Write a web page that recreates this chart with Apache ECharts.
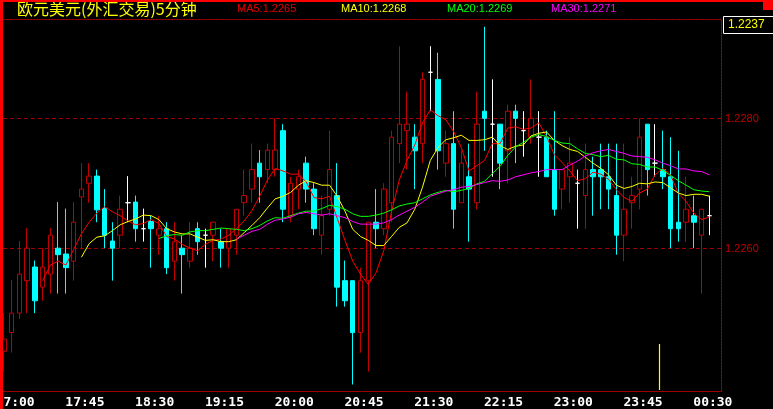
<!DOCTYPE html>
<html><head><meta charset="utf-8">
<script src="https://cdn.jsdelivr.net/npm/echarts@6/dist/echarts.min.js"></script>
<style>html,body{margin:0;padding:0;background:#000;overflow:hidden}#c{width:773px;height:409px}</style>
</head><body><div id="c"></div>
<script>
const titleText = '欧元美元(外汇交易)5分钟';
const maNames = ['MA5', 'MA10', 'MA20', 'MA30'];
const maHeaderValues = ['1.2265', '1.2268', '1.2269', '1.2271'];
const tickLabels = ['17:00','17:45','18:30','19:15','20:00','20:45','21:30','22:15','23:00','23:45','00:30'];
const gridLevels = [1.2260, 1.2280];
const boxPrice = '1.2237';

const opens = [1.22441,1.22470,1.22500,1.22550,1.22571,1.22540,1.22560,1.22600,1.22591,1.22580,
1.22679,1.22700,1.22711,1.22661,1.22611,1.22620,1.22670,1.22671,1.22630,1.22641,
1.22620,1.22630,1.22580,1.22600,1.22580,1.22630,1.22620,1.22620,1.22610,1.22600,
1.22620,1.22670,1.22691,1.22731,1.22721,1.22721,1.22781,1.22650,1.22691,1.22731,
1.22691,1.22620,1.22660,1.22681,1.22550,1.22550,1.22470,1.22550,1.22640,1.22630,
1.22670,1.22761,1.22781,1.22771,1.22761,1.22871,1.22860,1.22731,1.22761,1.22670,
1.22710,1.22670,1.22811,1.22791,1.22791,1.22750,1.22811,1.22781,1.22771,1.22771,
1.22771,1.22721,1.22691,1.22710,1.22700,1.22681,1.22721,1.22721,1.22710,1.22681,
1.22620,1.22670,1.22691,1.22791,1.22731,1.22721,1.22710,1.22640,1.22640,1.22650,
1.22620,1.22650];
const closes = [1.22460,1.22500,1.22560,1.22600,1.22519,1.22571,1.22620,1.22590,1.22570,1.22640,
1.22691,1.22711,1.22659,1.22620,1.22600,1.22660,1.22670,1.22630,1.22630,1.22630,
1.22630,1.22570,1.22610,1.22590,1.22600,1.22610,1.22620,1.22640,1.22600,1.22630,
1.22660,1.22681,1.22721,1.22710,1.22751,1.22751,1.22660,1.22700,1.22710,1.22691,
1.22630,1.22650,1.22721,1.22540,1.22519,1.22470,1.22550,1.22640,1.22630,1.22691,
1.22771,1.22791,1.22791,1.22750,1.22860,1.22871,1.22750,1.22761,1.22660,1.22731,
1.22691,1.22791,1.22800,1.22791,1.22731,1.22811,1.22800,1.22781,1.22800,1.22771,
1.22710,1.22660,1.22721,1.22731,1.22700,1.22721,1.22710,1.22710,1.22691,1.22620,
1.22660,1.22681,1.22771,1.22721,1.22731,1.22710,1.22630,1.22630,1.22660,1.22640,
1.22660,1.22650];
const lows = [1.22410,1.22439,1.22491,1.22500,1.22500,1.22519,1.22530,1.22530,1.22530,1.22550,
1.22600,1.22670,1.22640,1.22600,1.22550,1.22600,1.22640,1.22610,1.22610,1.22570,
1.22590,1.22560,1.22550,1.22530,1.22570,1.22590,1.22570,1.22580,1.22570,1.22570,
1.22590,1.22650,1.22670,1.22670,1.22700,1.22710,1.22640,1.22640,1.22660,1.22670,
1.22620,1.22590,1.22650,1.22510,1.22510,1.22390,1.22439,1.22410,1.22600,1.22620,
1.22640,1.22731,1.22721,1.22691,1.22731,1.22811,1.22721,1.22710,1.22630,1.22670,
1.22610,1.22660,1.22750,1.22710,1.22691,1.22700,1.22731,1.22741,1.22761,1.22710,
1.22710,1.22650,1.22660,1.22670,1.22630,1.22630,1.22650,1.22660,1.22660,1.22590,
1.22580,1.22630,1.22660,1.22681,1.22710,1.22691,1.22600,1.22610,1.22610,1.22600,
1.22530,1.22620];
const highs = [1.22500,1.22551,1.22611,1.22631,1.22581,1.22600,1.22631,1.22671,1.22661,1.22671,
1.22731,1.22731,1.22721,1.22691,1.22640,1.22681,1.22711,1.22681,1.22661,1.22650,
1.22650,1.22640,1.22640,1.22620,1.22640,1.22640,1.22630,1.22640,1.22630,1.22630,
1.22660,1.22721,1.22761,1.22751,1.22761,1.22800,1.22791,1.22710,1.22721,1.22741,
1.22700,1.22681,1.22781,1.22731,1.22581,1.22550,1.22570,1.22640,1.22691,1.22700,
1.22781,1.22911,1.22841,1.22791,1.22871,1.22911,1.22901,1.22781,1.22811,1.22750,
1.22761,1.22841,1.22941,1.22860,1.22791,1.22821,1.22821,1.22811,1.22860,1.22811,
1.22781,1.22811,1.22721,1.22771,1.22721,1.22761,1.22741,1.22761,1.22761,1.22761,
1.22761,1.22710,1.22800,1.22791,1.22791,1.22781,1.22771,1.22750,1.22710,1.22681,
1.22660,1.22681];

const ma5 = ['-','-','-','-','-',1.22550,1.22574,1.22580,1.22574,1.22598,
1.22622,1.22640,1.22654,1.22664,1.22656,1.22650,1.22642,1.22636,1.22638,1.22644,
1.22638,1.22618,1.22614,1.22606,1.22600,1.22596,1.22606,1.22612,1.22614,1.22620,
1.22630,1.22642,1.22658,1.22680,1.22705,1.22723,1.22719,1.22714,1.22714,1.22702,
1.22678,1.22676,1.22680,1.22646,1.22612,1.22580,1.22560,1.22544,1.22562,1.22596,
1.22656,1.22705,1.22735,1.22759,1.22793,1.22813,1.22804,1.22798,1.22780,1.22755,
1.22719,1.22727,1.22735,1.22761,1.22761,1.22785,1.22787,1.22783,1.22785,1.22793,
1.22772,1.22744,1.22732,1.22719,1.22704,1.22707,1.22717,1.22714,1.22706,1.22690,
1.22678,1.22672,1.22685,1.22691,1.22713,1.22723,1.22713,1.22684,1.22672,1.22654,
1.22644,1.22648];
const ma10 = ['-','-','-','-','-','-','-','-','-','-',
1.22586,1.22607,1.22617,1.22619,1.22627,1.22636,1.22641,1.22645,1.22651,1.22650,
1.22644,1.22630,1.22625,1.22622,1.22622,1.22617,1.22612,1.22613,1.22610,1.22610,
1.22613,1.22624,1.22635,1.22647,1.22662,1.22676,1.22680,1.22686,1.22697,1.22704,
1.22701,1.22697,1.22697,1.22680,1.22657,1.22629,1.22618,1.22612,1.22604,1.22604,
1.22618,1.22632,1.22639,1.22660,1.22694,1.22735,1.22755,1.22767,1.22770,1.22774,
1.22766,1.22766,1.22767,1.22771,1.22758,1.22752,1.22757,1.22759,1.22773,1.22777,
1.22779,1.22766,1.22758,1.22752,1.22749,1.22740,1.22731,1.22723,1.22713,1.22697,
1.22692,1.22695,1.22700,1.22699,1.22702,1.22701,1.22693,1.22685,1.22681,1.22683,
1.22683,1.22680];
const ma20 = ['-','-','-','-','-','-','-','-','-','-',
'-','-','-','-','-','-','-','-','-','-',
1.22615,1.22619,1.22621,1.22620,1.22625,1.22627,1.22627,1.22629,1.22631,1.22630,
1.22629,1.22627,1.22630,1.22635,1.22642,1.22647,1.22646,1.22650,1.22654,1.22657,
1.22657,1.22661,1.22666,1.22664,1.22660,1.22653,1.22649,1.22649,1.22651,1.22654,
1.22659,1.22665,1.22668,1.22670,1.22676,1.22682,1.22686,1.22689,1.22687,1.22689,
1.22692,1.22699,1.22703,1.22715,1.22726,1.22743,1.22756,1.22763,1.22771,1.22775,
1.22772,1.22766,1.22762,1.22761,1.22753,1.22746,1.22744,1.22741,1.22743,1.22737,
1.22736,1.22730,1.22729,1.22725,1.22725,1.22720,1.22712,1.22704,1.22697,1.22690,
1.22688,1.22687];
const ma30 = ['-','-','-','-','-','-','-','-','-','-',
'-','-','-','-','-','-','-','-','-','-',
'-','-','-','-','-','-','-','-','-','-',
1.22614,1.22620,1.22626,1.22629,1.22637,1.22643,1.22645,1.22648,1.22653,1.22655,
1.22653,1.22651,1.22653,1.22650,1.22647,1.22641,1.22637,1.22637,1.22637,1.22639,
1.22644,1.22651,1.22657,1.22663,1.22671,1.22680,1.22684,1.22688,1.22690,1.22694,
1.22695,1.22698,1.22701,1.22704,1.22703,1.22705,1.22710,1.22713,1.22716,1.22718,
1.22721,1.22721,1.22721,1.22728,1.22734,1.22742,1.22747,1.22750,1.22752,1.22749,
1.22746,1.22742,1.22741,1.22740,1.22736,1.22731,1.22727,1.22722,1.22722,1.22719,
1.22718,1.22713];

const maColors = ['#ff0000', '#ffff00', '#00ff00', '#ff00ff'];
const maTextColors = ['#e80000', '#ffff00', '#00ff00', '#ff00ff'];
const upColor = '#c00000', downColor = '#00ffff', dojiColor = '#ffffff', gridRed = '#a00000';

// category axis: 5-minute slots, plus one empty slot on the right
const categories = [];
for (let i = 0; i <= opens.length; i++) {
  const m = (16 * 60 + 55 + 5 * i) % 1440;
  categories.push(String(Math.floor(m / 60)).padStart(2, '0') + ':' + String(m % 60).padStart(2, '0'));
}
const candleData = opens.map((o, i) => {
  const item = { value: [o, closes[i], lows[i], highs[i]] };
  if (o === closes[i]) item.itemStyle = { color: dojiColor, color0: dojiColor, borderColor: dojiColor, borderColor0: dojiColor };
  return item;
});

const chart = echarts.init(document.getElementById('c'), null, { renderer: 'canvas' });

const maSeries = [ma5, ma10, ma20, ma30].map((d, k) => ({
  type: 'line', name: maNames[k], data: d, showSymbol: false, symbol: 'none', smooth: false,
  lineStyle: { color: maColors[k], width: 1 }, itemStyle: { color: maColors[k] }, z: 3 + k
}));

chart.setOption({
  backgroundColor: '#000',
  animation: false,
  grid: { left: 0, right: 52, top: 19, bottom: 18, containLabel: false, outerBoundsMode: 'none' },
  xAxis: [{
    type: 'category', data: categories, boundaryGap: true,
    axisLine: { show: true, lineStyle: { color: gridRed, width: 1 } },
    axisTick: { show: false },
    splitLine: { show: false },
    axisLabel: {
      interval: (i, name) => tickLabels.includes(name),
      color: '#ffffff', fontFamily: 'DejaVu Sans Mono', fontWeight: 'bold', fontSize: 13,
      margin: 5, padding: [0, 0, 0, 7]
    }
  }, {
    type: 'category', data: categories, position: 'top', boundaryGap: true,
    axisLine: { show: true, lineStyle: { color: gridRed, width: 1, type: [2, 1] } },
    axisTick: { show: false }, axisLabel: { show: false }, splitLine: { show: false }
  }],
  yAxis: {
    type: 'value', position: 'right', min: 1.2238, max: 1.22953,
    axisLine: { show: true, lineStyle: { color: gridRed, width: 1, type: [2, 1] } },
    axisTick: { show: false }, axisLabel: { show: false }, splitLine: { show: false }
  },
  series: [{
    type: 'candlestick', name: 'K', data: candleData, barWidth: 5,
    itemStyle: { color: '#000000', color0: downColor, borderColor: upColor, borderColor0: downColor, borderWidth: 1 }
  }].concat(maSeries)
});

// header, frame, price levels and the 00:00 day divider (placed through the chart's own scales)
const headerX = [237, 341, 447, 551];
const graphics = [
  { type: 'text', left: 17, top: 1, z: 100, style: { text: titleText, fill: '#ffff00', font: '16px "Noto Sans CJK SC"' } }
];
maNames.forEach((n, k) => graphics.push({ type: 'text', left: headerX[k], top: 3, z: 100,
  style: { text: n + ':' + maHeaderValues[k], fill: maTextColors[k], font: '11px "Liberation Sans"' } }));

const xRight = chart.convertToPixel({ xAxisIndex: 0 }, categories.length - 1) + 4;
gridLevels.forEach(v => {
  const y = Math.round(chart.convertToPixel({ yAxisIndex: 0 }, v)) + 0.5;
  graphics.push({ type: 'line', z: 1, silent: true, shape: { x1: 3, y1: y, x2: xRight, y2: y },
    style: { stroke: gridRed, lineWidth: 1, lineDash: [4, 3] } });
  graphics.push({ type: 'text', z: 1, silent: true, x: xRight + 4, y: y, style: { text: v.toFixed(4), fill: '#c00000',
    font: '11px "Liberation Sans"', verticalAlign: 'middle' } });
});
const xa = chart.convertToPixel({ xAxisIndex: 0 }, categories.indexOf('23:55'));
const xb = chart.convertToPixel({ xAxisIndex: 0 }, categories.indexOf('00:00'));
const yBottom = chart.convertToPixel({ yAxisIndex: 0 }, 1.2238);
const xd = Math.round((xa + xb) / 2) + 0.5;
graphics.push({ type: 'line', z: 90, silent: true, shape: { x1: xd, y1: yBottom - 47, x2: xd, y2: yBottom - 1 },
  style: { stroke: '#ffff00', lineWidth: 1.2, fill: null } });

graphics.push(
  { type: 'rect', left: 0, top: 0, z: 200, shape: { width: 3, height: 409 }, style: { fill: '#ff0000' } },
  { type: 'rect', left: 0, top: 0, z: 200, shape: { width: 773, height: 2 }, style: { fill: '#ff0000' } },
  { type: 'rect', left: 763, top: 0, z: 200, shape: { width: 10, height: 10 }, style: { fill: '#ff0000' } },
  { type: 'rect', z: 150, shape: { x: 723.5, y: 16.5, width: 60, height: 17 }, style: { fill: '#000', stroke: '#ffffff', lineWidth: 1 } },
  { type: 'text', left: 728, top: 19, z: 160, style: { text: boxPrice, fill: '#ffff00', font: '12px "Liberation Sans"' } }
);
chart.setOption({ graphic: graphics });
</script></body></html>
